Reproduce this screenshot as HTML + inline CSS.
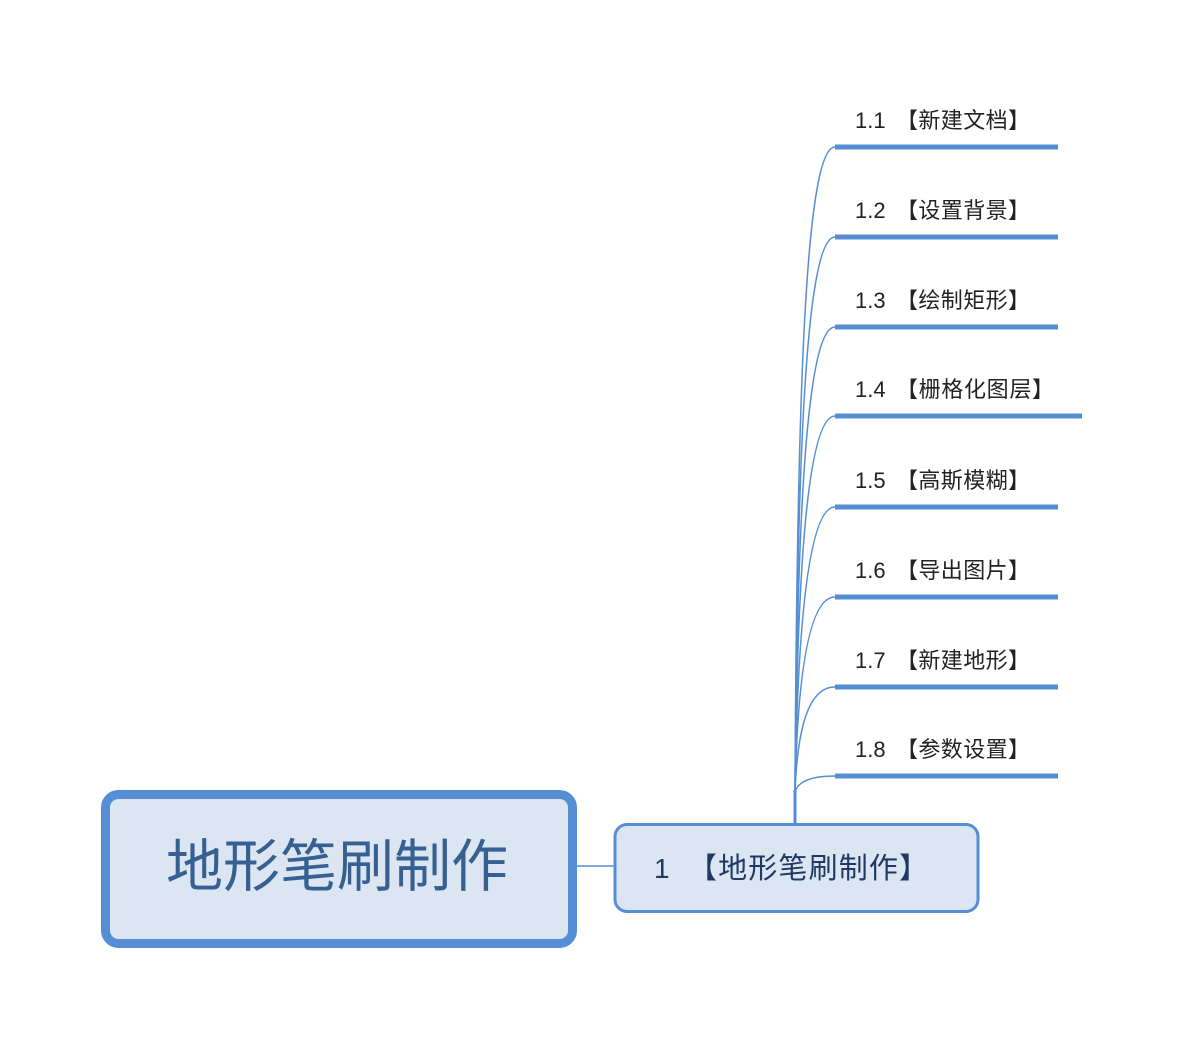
<!DOCTYPE html>
<html><head><meta charset="utf-8"><style>
html,body{margin:0;padding:0;background:#fff;}
svg text{font-family:"Liberation Sans","Noto Sans CJK SC",sans-serif;}
</style></head><body>
<svg width="1182" height="1044" viewBox="0 0 1182 1044" xmlns="http://www.w3.org/2000/svg">
<rect width="1182" height="1044" fill="#fff"/>
<g fill="none" stroke="#558ed5" stroke-width="1.5">
<path d="M795 792 C797 400, 805 147, 835 147"/>
<path d="M795 792 C797 470, 805 237, 835 237"/>
<path d="M795 792 C797 540, 805 327, 835 327"/>
<path d="M795 792 C797 600, 805 416, 835 416"/>
<path d="M795 792 C797 660, 805 507, 835 507"/>
<path d="M795 792 C797 700, 805 597, 835 597"/>
<path d="M795 792 C797 740, 805 687, 835 687"/>
<path d="M795 792 C797 785, 805 776, 835 776"/>
</g>
<line x1="795" y1="790" x2="795" y2="825" stroke="#558ed5" stroke-width="3"/>
<line x1="577" y1="866" x2="614" y2="866" stroke="#558ed5" stroke-width="1.5"/>
<g stroke="#558ed5" stroke-width="5">
<line x1="835" y1="147" x2="1058" y2="147"/>
<line x1="835" y1="237" x2="1058" y2="237"/>
<line x1="835" y1="327" x2="1058" y2="327"/>
<line x1="835" y1="416" x2="1082" y2="416"/>
<line x1="835" y1="507" x2="1058" y2="507"/>
<line x1="835" y1="597" x2="1058" y2="597"/>
<line x1="835" y1="687" x2="1058" y2="687"/>
<line x1="835" y1="776" x2="1058" y2="776"/>
</g>
<g font-size="22" fill="#222">
<text x="855" y="128">1.1</text><text x="896" y="128" textLength="134">【新建文档】</text>
<text x="855" y="218">1.2</text><text x="896" y="218" textLength="134">【设置背景】</text>
<text x="855" y="308">1.3</text><text x="896" y="308" textLength="134">【绘制矩形】</text>
<text x="855" y="397">1.4</text><text x="896" y="397" textLength="158">【栅格化图层】</text>
<text x="855" y="488">1.5</text><text x="896" y="488" textLength="134">【高斯模糊】</text>
<text x="855" y="578">1.6</text><text x="896" y="578" textLength="134">【导出图片】</text>
<text x="855" y="668">1.7</text><text x="896" y="668" textLength="134">【新建地形】</text>
<text x="855" y="757">1.8</text><text x="896" y="757" textLength="134">【参数设置】</text>
</g>
<rect x="105.5" y="794.5" width="467" height="149" rx="13" fill="#dce6f2" stroke="#558ed5" stroke-width="9"/>
<text x="337" y="886" font-size="57" fill="#366092" text-anchor="middle">地形笔刷制作</text>
<rect x="615" y="824.5" width="363" height="87" rx="12" fill="#dce6f2" stroke="#558ed5" stroke-width="3"/>
<text x="654" y="878" font-size="28" fill="#1f3864">1</text>
<text x="688" y="878" font-size="29" fill="#1f3864" textLength="240">【地形笔刷制作】</text>
</svg>
</body></html>
